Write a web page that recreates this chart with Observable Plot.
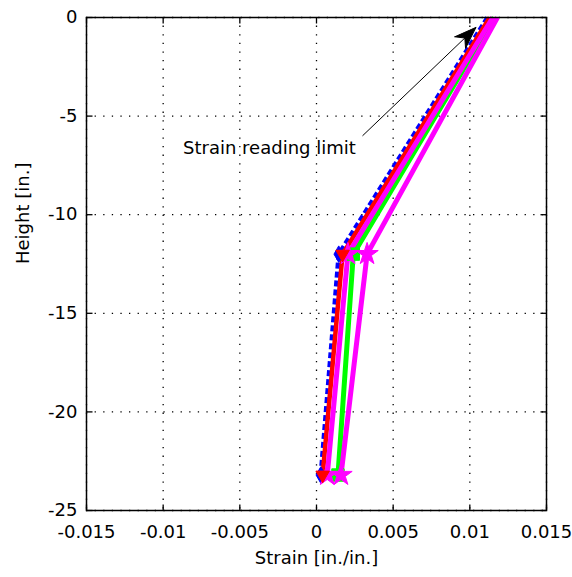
<!DOCTYPE html>
<html><head><meta charset="utf-8">
<script src="https://cdn.jsdelivr.net/npm/d3@7"></script>
<script src="https://cdn.jsdelivr.net/npm/@observablehq/plot@0.6"></script>
<style>html,body{margin:0;padding:0;background:#fff;}</style>
</head><body><div id="chart"></div>
<script>
// ---- data ----
const heights = [0, -12, -23.2];
const blueStrain = [0.01115, 0.00145, 0.00028];
const redStrain = [0.0113, 0.0017, 0.0004];
const magentaAStrain = [0.0115, 0.00205, 0.0007];
const greenStrain = [0.0116, 0.0024, 0.0014];
const magentaBStrain = [0.0118, 0.0033, 0.0016];
const xTicks = [-0.015, -0.01, -0.005, 0, 0.005, 0.01, 0.015];
const xTickLabels = ["-0.015", "-0.01", "-0.005", "0", "0.005", "0.01", "0.015"];
const yTicks = [-25, -20, -15, -10, -5, 0];
const yTickLabels = ["-25", "-20", "-15", "-10", "-5", "0"];
const annotationLabel = ["Strain reading limit"];
const annotationAt = [-0.00307, -6.65];
const arrowTail = [0.0030, -6.0];
const arrowTip = [0.0104, -0.5];

// ---- layout/style ----
const W = 572, H = 577;
const mL = 86, mR = 26, mT = 17, mB = 67;
const xDomain = [-0.015, 0.015], yDomain = [-25, 0];

const seriesDefs = [
  {values: blueStrain, color: "#0000ff", dash: "6,3", width: 4.5, symbol: "diamond", r: 5, rot: 0},
  {values: redStrain, color: "#ff0000", dash: null, width: 4.5, symbol: "triangle", r: 5, rot: 180},
  {values: greenStrain, color: "#00ff00", dash: null, width: 5, symbol: "square", r: 7, rot: 0},
  {values: magentaAStrain, color: "#ff00ff", dash: null, width: 5, symbol: "star", r: 7, rot: 0},
  {values: magentaBStrain, color: "#ff00ff", dash: null, width: 5, symbol: "star", r: 7, rot: 0}
];
const markerOrder = [0, 2, 3, 4, 1];

const annotationRows = [{x: annotationAt[0], y: annotationAt[1], label: annotationLabel[0]}];
const arrowRows = [{x1: arrowTail[0], y1: arrowTail[1], x2: arrowTip[0], y2: arrowTip[1]}];

// pixel geometry for the arrowhead orientation
const px = d3.scaleLinear(xDomain, [mL, W - mR]);
const py = d3.scaleLinear(yDomain, [H - mB, mT]);
const adx = px(arrowTip[0]) - px(arrowTail[0]);
const ady = py(arrowTip[1]) - py(arrowTail[1]);
const arrowAngle = Math.atan2(adx, -ady) * 180 / Math.PI;

const headShape = {
  draw(context, l) {
    const w = l * 0.36;
    context.moveTo(0, -l);
    context.lineTo(w, 0);
    context.lineTo(0, -l * 0.3);
    context.lineTo(-w, 0);
    context.closePath();
  }
};
const tickShape = {
  draw(context, l) { context.moveTo(0, 0); context.lineTo(0, -l); }
};

function build() {
  const tickOpts = {length: 6, anchor: "start", shape: tickShape, stroke: "black", strokeWidth: 1.3, strokeLinecap: "butt"};
  const marks = [
    Plot.gridX(xTicks, {stroke: "black", strokeOpacity: 1, strokeWidth: 1.3, strokeDasharray: "1.3,7.3"}),
    Plot.gridY(yTicks, {stroke: "black", strokeOpacity: 1, strokeWidth: 1.3, strokeDasharray: "1.3,7.3"}),
    Plot.axisX(xTicks, {anchor: "bottom", tickSize: 0, tickPadding: 15, label: null,
      tickFormat: d => xTickLabels[xTicks.indexOf(d)]}),
    Plot.axisY(yTicks, {anchor: "left", tickSize: 0, tickPadding: 9, label: null,
      tickFormat: d => yTickLabels[yTicks.indexOf(d)]}),
    Plot.vector(xTicks, {x: d => d, frameAnchor: "bottom", rotate: 0, ...tickOpts}),
    Plot.vector(xTicks, {x: d => d, frameAnchor: "top", rotate: 180, ...tickOpts}),
    Plot.vector(yTicks, {y: d => d, frameAnchor: "left", rotate: 90, ...tickOpts}),
    Plot.vector(yTicks, {y: d => d, frameAnchor: "right", rotate: -90, ...tickOpts})
  ];
  for (const s of seriesDefs) {
    const rows = s.values.map((v, i) => ({strain: v, height: heights[i]}));
    marks.push(Plot.line(rows, {x: "strain", y: "height", stroke: s.color, strokeWidth: s.width,
      strokeDasharray: s.dash, strokeLinejoin: "miter", strokeLinecap: "butt"}));
  }
  for (const k of markerOrder) {
    const s = seriesDefs[k];
    const rows = s.values.map((v, i) => ({strain: v, height: heights[i]})).slice(1);
    marks.push(Plot.dot(rows, {x: "strain", y: "height", symbol: s.symbol, r: s.r, rotate: s.rot,
      fill: s.color, stroke: s.color, strokeWidth: 1}));
  }
  marks.push(
    Plot.link(arrowRows, {x1: "x1", y1: "y1", x2: "x2", y2: "y2", stroke: "black", strokeWidth: 1}),
    Plot.vector(arrowRows, {x: "x2", y: "y2", length: 22, rotate: arrowAngle, anchor: "end",
      shape: headShape, fill: "black", stroke: "black", strokeWidth: 1}),
    Plot.text(annotationRows, {x: "x", y: "y", text: "label", fill: "black", fontSize: 18}),
    Plot.frame({stroke: "black", strokeWidth: 1.5}),
    Plot.text(["Strain [in./in.]"], {text: d => d, frameAnchor: "bottom", dy: 53, fill: "black", fontSize: 18}),
    Plot.text(["Height [in.]"], {text: d => d, frameAnchor: "left", dx: -63, rotate: -90, fill: "black", fontSize: 18})
  );
  return Plot.plot({
    width: W, height: H,
    marginLeft: mL, marginRight: mR, marginTop: mT, marginBottom: mB,
    x: {domain: xDomain},
    y: {domain: yDomain},
    style: {fontFamily: "DejaVu Sans", fontSize: "18px", background: "#fff", color: "black"},
    marks
  });
}

document.getElementById("chart").appendChild(build());
</script>
</body></html>
